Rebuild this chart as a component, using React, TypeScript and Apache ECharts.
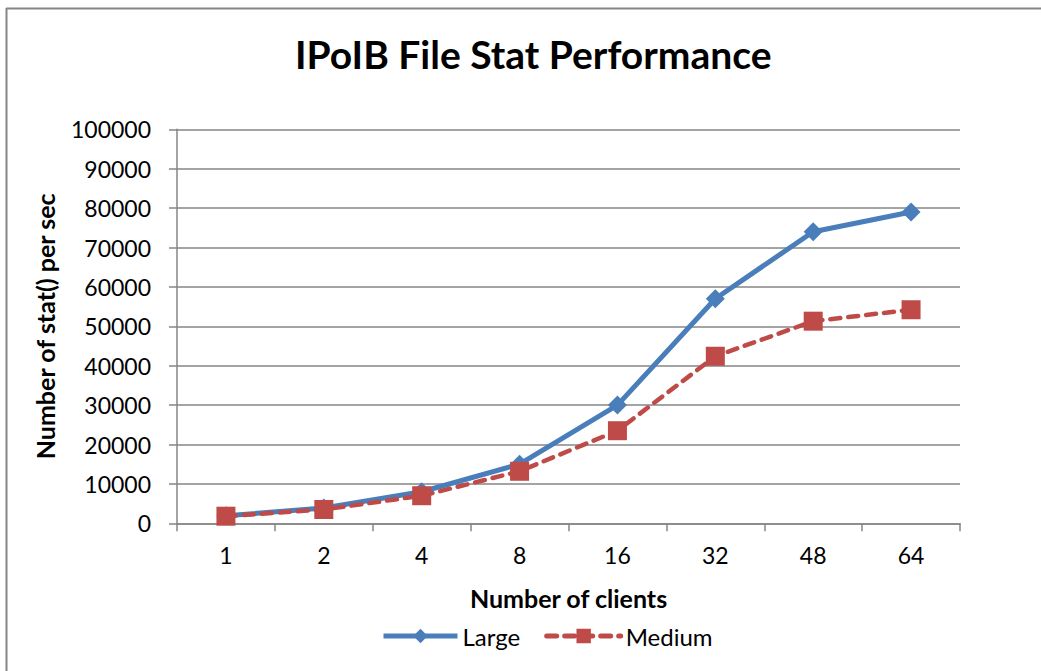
import React, { useEffect, useRef } from "react";
import * as echarts from "echarts";

const categories = ["1", "2", "4", "8", "16", "32", "48", "64"];
const largeValues = [1900, 3900, 8000, 15000, 30000, 57000, 74000, 79000];
const mediumValues = [1800, 3500, 7000, 13200, 23500, 42400, 51300, 54200];
const yTicks = [0, 10000, 20000, 30000, 40000, 50000, 60000, 70000, 80000, 90000, 100000];

const FONT = "Lato, 'Open Sans', sans-serif";

export default function App() {
  const ref = useRef<HTMLDivElement>(null);
  useEffect(() => {
    if (!ref.current) return;
    const chart = echarts.init(ref.current, undefined, { renderer: "svg" });
    chart.setOption({
      animation: false,
      backgroundColor: "#ffffff",
      textStyle: { fontFamily: FONT },
      title: {
        text: "IPoIB File Stat Performance",
        left: 290,
        top: 29,
        textStyle: { fontFamily: FONT, fontSize: 39, fontWeight: "bold", color: "#000" },
      },
      graphic: [
        { type: "line", shape: { x1: 6, y1: 8.5, x2: 1041, y2: 8.5 }, style: { stroke: "#868686", lineWidth: 2 } },
        { type: "line", shape: { x1: 6.5, y1: 8, x2: 6.5, y2: 671 }, style: { stroke: "#868686", lineWidth: 2 } },
      ],
      legend: {
        bottom: 18,
        left: 376,
        itemWidth: 74,
        itemHeight: 18,
        itemGap: 24,
        lineStyle: { width: 5 },
        textStyle: { fontFamily: FONT, fontSize: 24, color: "#000" },
        data: ["Large", "Medium"],
      },
      grid: { left: 177, top: 129.3, right: 81, bottom: 147.7, containLabel: false },
      xAxis: {
        type: "category",
        data: categories,
        boundaryGap: true,
        name: "Number of clients",
        nameLocation: "middle",
        nameGap: 62,
        nameTextStyle: { fontFamily: FONT, fontSize: 25, fontWeight: "bold", color: "#000" },
        axisLine: { lineStyle: { color: "#868686", width: 1.5 } },
        axisTick: { show: true, length: 8, alignWithLabel: false, lineStyle: { color: "#868686", width: 1.5 } },
        axisLabel: { fontFamily: FONT, fontSize: 23, color: "#000", margin: 20 },
      },
      yAxis: {
        type: "value",
        min: yTicks[0],
        max: yTicks[yTicks.length - 1],
        interval: yTicks[1] - yTicks[0],
        name: "Number of stat() per sec",
        nameLocation: "middle",
        nameGap: 120,
        nameRotate: 90,
        nameTextStyle: { fontFamily: FONT, fontSize: 25, fontWeight: "bold", color: "#000" },
        axisLine: { show: true, lineStyle: { color: "#868686", width: 1.5 } },
        axisTick: { show: true, length: 8, lineStyle: { color: "#868686", width: 1.5 } },
        axisLabel: { fontFamily: FONT, fontSize: 23, color: "#000", margin: 26, formatter: (v: number) => String(v) },
        splitLine: { show: true, lineStyle: { color: "#868686", width: 1.5 } },
      },
      series: [
        {
          name: "Large",
          type: "line",
          data: largeValues,
          symbol: "diamond",
          symbolSize: 19,
          lineStyle: { color: "#4A7EBB", width: 5 },
          itemStyle: { color: "#4A7EBB" },
        },
        {
          name: "Medium",
          type: "line",
          data: mediumValues,
          symbol: "rect",
          symbolSize: 19,
          lineStyle: { color: "#BE4B48", width: 4.5, type: [10, 8], cap: "round" },
          itemStyle: { color: "#BE4B48" },
        },
      ],
    });
    return () => chart.dispose();
  }, []);
  return (
    <div
      ref={ref}
      style={{ position: "fixed", left: 0, top: 0, width: 1041, height: 671 }}
    />
  );
}
